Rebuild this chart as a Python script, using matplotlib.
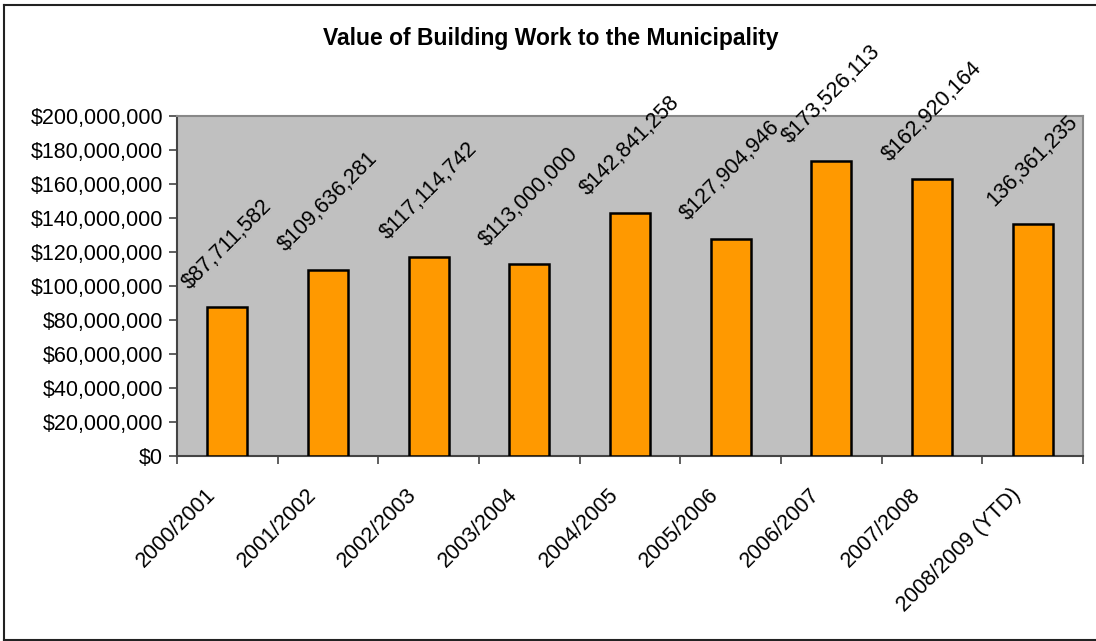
import matplotlib
matplotlib.use("Agg")
import matplotlib.pyplot as plt
from matplotlib.lines import Line2D
from matplotlib.ticker import FuncFormatter, FixedLocator
import matplotlib.transforms as mtransforms

plt.rcParams['font.family'] = ['Liberation Sans', 'DejaVu Sans']

categories = ["2000/2001", "2001/2002", "2002/2003", "2003/2004", "2004/2005",
              "2005/2006", "2006/2007", "2007/2008", "2008/2009 (YTD)"]
values = [87711582, 109636281, 117114742, 113000000, 142841258,
          127904946, 173526113, 162920164, 136361235]
value_labels = ["$87,711,582", "$109,636,281", "$117,114,742", "$113,000,000",
                "$142,841,258", "$127,904,946", "$173,526,113", "$162,920,164",
                "136,361,235"]
title = "Value of Building Work to the Municipality"

W, H = 1096, 641
fig = plt.figure(figsize=(W / 100, H / 100), dpi=100)
fig.patch.set_facecolor('white')

# outer chart border (left, top, bottom visible; right edge is cut off)
x0, y0, y1 = 4 / W, 1 - 639.5 / H, 1 - 5 / H
for xd, yd in [([x0, 1.01], [y1, y1]), ([x0, x0], [y0, y1]), ([x0, 1.01], [y0, y0])]:
    fig.add_artist(Line2D(xd, yd, transform=fig.transFigure, color='#222222',
                          linewidth=1.5, solid_capstyle='projecting'))

left, right, top, bottom = 177, 1083, 116, 456
ax = fig.add_axes([left / W, 1 - bottom / H, (right - left) / W, (bottom - top) / H])
ax.set_facecolor('#c0c0c0')

n = len(categories)
xs = list(range(n))
ax.bar(xs, values, width=0.4, color='#ff9900', edgecolor='black', linewidth=1.8, zorder=3)

ax.set_xlim(-0.5, n - 0.5)
ax.set_ylim(0, 200000000)
ax.set_yticks(range(0, 200000001, 20000000))
ax.yaxis.set_major_formatter(FuncFormatter(lambda v, p: "${:,.0f}".format(v)))
ax.tick_params(axis='y', labelsize=15.5, length=6, width=1.2, color='#444444', pad=4)

# x: ticks at boundaries, labels at centres
ax.xaxis.set_major_locator(FixedLocator([i - 0.5 for i in range(n + 1)]))
ax.set_xticklabels([], minor=False)
ax.set_xticks(xs, minor=True)
ax.set_xticklabels(categories, minor=True, rotation=45, ha='right', va='center',
                   rotation_mode='anchor', fontsize=15.5)
ax.tick_params(axis='x', which='major', length=6, width=1.2, color='#444444')
ax.tick_params(axis='x', which='minor', length=0, pad=25.5)
offset = mtransforms.ScaledTranslation(-15 / 100, 0, fig.dpi_scale_trans)
for lbl in ax.xaxis.get_minorticklabels():
    lbl.set_transform(lbl.get_transform() + offset)

for s in ['left', 'bottom']:
    ax.spines[s].set_color('#444444')
    ax.spines[s].set_linewidth(1.5)
for s in ['top', 'right']:
    ax.spines[s].set_color('#888888')
    ax.spines[s].set_linewidth(1.5)

for x, v, t in zip(xs, values, value_labels):
    ax.annotate(t, (x, v), xytext=(0, 10), textcoords='offset points',
                rotation=45, ha='center', va='bottom', fontsize=15.5,
                annotation_clip=False, zorder=4)

fig.text(551 / W, 1 - 39 / H, title, ha='center', va='center',
         fontsize=16.5, fontweight='bold')

fig.savefig('out.png', dpi=100)
